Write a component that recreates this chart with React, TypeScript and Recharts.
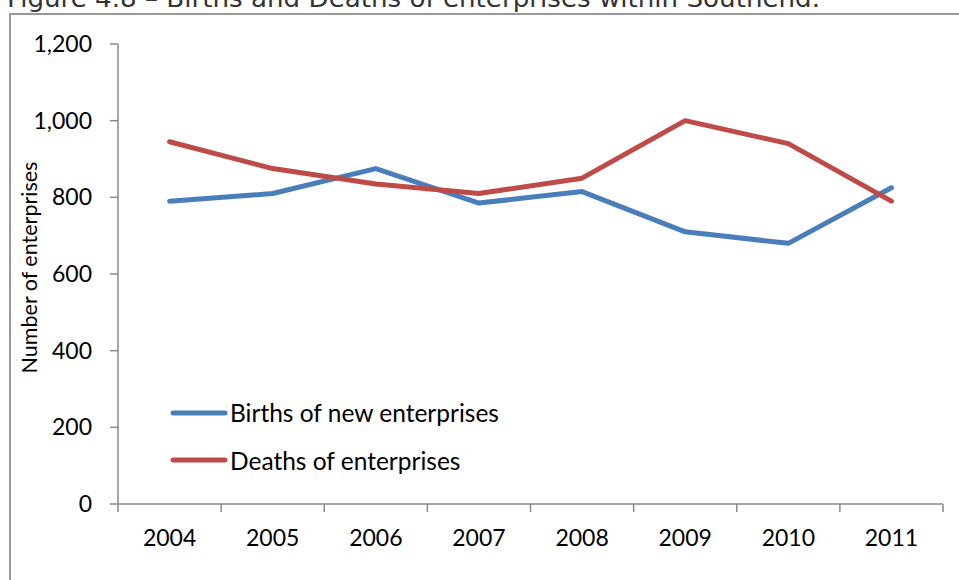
import { Label, Legend, Line, LineChart, XAxis, YAxis } from "recharts"

const years = ["2004", "2005", "2006", "2007", "2008", "2009", "2010", "2011"]
const births = [790, 810, 875, 785, 815, 710, 680, 825]
const deaths = [945, 875, 835, 810, 850, 1000, 940, 790]
const yTicks = [0, 200, 400, 600, 800, 1000, 1200]

const data = years.map((year, i) => ({ year, births: births[i], deaths: deaths[i] }))

const W = 959
const H = 580
const PLOT_LEFT = 118
const PLOT_RIGHT = 943
const PLOT_TOP = 44
const PLOT_BOTTOM = 504
const STEP = (PLOT_RIGHT - PLOT_LEFT) / years.length
const AXIS = "#898989"
const FONT = "Lato, 'Noto Sans', sans-serif"
const BLUE = "#4a7ebb"
const RED = "#be4b48"

function YearTick(props: any) {
  const { x, payload, index } = props
  const y0 = PLOT_BOTTOM
  return (
    <g>
      <line x1={x - STEP / 2} x2={x - STEP / 2} y1={y0} y2={y0 + 8} stroke={AXIS} strokeWidth={1.5} />
      {index === years.length - 1 && (
        <line x1={x + STEP / 2} x2={x + STEP / 2} y1={y0} y2={y0 + 8} stroke={AXIS} strokeWidth={1.5} />
      )}
      <text x={x} y={y0 + 42} textAnchor="middle" fill="#000" fontSize={23} fontFamily={FONT}>
        {payload.value}
      </text>
    </g>
  )
}

function LegendBox() {
  const items = [
    { label: "Births of new enterprises", color: BLUE },
    { label: "Deaths of enterprises", color: RED },
  ]
  return (
    <div style={{ fontFamily: FONT, fontSize: 24.5, color: "#000" }}>
      {items.map((it) => (
        <div key={it.label} style={{ display: "flex", alignItems: "center", height: 47.5 }}>
          <svg width={58} height={10} style={{ marginRight: 2 }}>
            <line x1={3} x2={55} y1={5} y2={5} stroke={it.color} strokeWidth={5} strokeLinecap="round" />
          </svg>
          <span>{it.label}</span>
        </div>
      ))}
    </div>
  )
}

export default function App() {
  return (
    <div style={{ position: "absolute", left: 0, top: 0, width: W, height: H, overflow: "hidden", background: "#fff" }}>
      <svg width={W} height={20} style={{ position: "absolute", left: 0, top: 0 }}>
        <text
          x={7}
          y={7}
          fontFamily="'DejaVu Sans', sans-serif"
          fontSize={24}
          fill="#333"
          textLength={813}
          lengthAdjust="spacingAndGlyphs"
        >
          Figure 4.8 – Births and Deaths of enterprises within Southend.
        </text>
      </svg>
      <div
        style={{
          position: "absolute",
          left: 9,
          top: 13,
          width: 1000,
          height: 700,
          border: "2px solid #999",
          boxSizing: "border-box",
        }}
      />
      <div style={{ position: "absolute", left: 0, top: 0 }}>
        <LineChart
          width={W}
          height={H}
          data={data}
          margin={{ top: PLOT_TOP, right: W - PLOT_RIGHT, left: 0, bottom: H - PLOT_BOTTOM - 60 }}
        >
          <XAxis
            dataKey="year"
            scale="point"
            padding={{ left: STEP / 2, right: STEP / 2 }}
            axisLine={{ stroke: AXIS, strokeWidth: 1.5 }}
            tickLine={false}
            tick={<YearTick />}
            interval={0}
            height={60}
          />
          <YAxis
            width={PLOT_LEFT}
            domain={[0, 1200]}
            ticks={yTicks}
            interval={0}
            axisLine={{ stroke: AXIS, strokeWidth: 1.5 }}
            tickLine={{ stroke: AXIS, strokeWidth: 1.5 }}
            tickSize={8}
            tickMargin={18}
            tick={{ fill: "#000", fontSize: 23, fontFamily: FONT }}
            tickFormatter={(v: number) => v.toLocaleString("en-US")}
          >
            <Label
              content={() => (
                <text
                  transform="translate(37,267.5) rotate(-90)"
                  textAnchor="middle"
                  fontSize={21.5}
                  fontFamily={FONT}
                  fill="#000"
                >
                  Number of enterprises
                </text>
              )}
            />
          </YAxis>
          <Legend
            layout="horizontal"
            align="center"
            verticalAlign="middle"
            content={<LegendBox />}
            wrapperStyle={{ position: "absolute", left: 170, top: 389, width: "auto", bottom: "auto" }}
          />
          <Line
            dataKey="births"
            stroke={BLUE}
            strokeWidth={5}
            strokeLinecap="round"
            strokeLinejoin="round"
            dot={false}
            activeDot={false}
            isAnimationActive={false}
          />
          <Line
            dataKey="deaths"
            stroke={RED}
            strokeWidth={5}
            strokeLinecap="round"
            strokeLinejoin="round"
            dot={false}
            activeDot={false}
            isAnimationActive={false}
          />
        </LineChart>
      </div>
    </div>
  )
}
